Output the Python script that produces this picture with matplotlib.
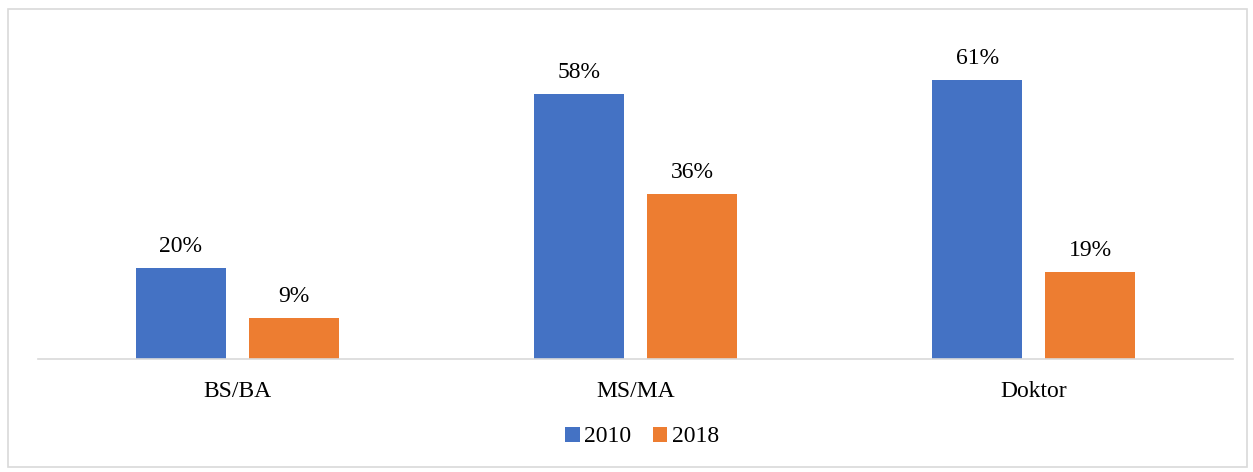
# IMPORTS #######################################
import numpy as np
import matplotlib.pyplot as plt
from matplotlib.patches import Rectangle

# DATA ##########################################
categories = ["BS/BA", "MS/MA", "Doktor"]
series_names = ["2010", "2018"]
values_2010 = [20, 58, 61]
values_2018 = [9, 36, 19]

# SETUP #########################################
plt.rcParams.update({"font.family": ["Liberation Serif", "DejaVu Serif"], "font.size": 17})

W, H = 1253, 472
fig = plt.figure(figsize=(W / 100, H / 100), dpi=100)

# axes placed in pixel terms
left, right, bottom_px, top_px = 38, 1233, 359, 39
ax = fig.add_axes([left / W, 1 - bottom_px / H, (right - left) / W, (bottom_px - top_px) / H])

blue = "#4472c4"
orange = "#ed7d31"
grid_col = "#d9d9d9"

x = np.arange(len(categories))
bw = 0.226
off = 0.142

b1 = ax.bar(x - off, values_2010, width=bw, color=blue, label=series_names[0])
b2 = ax.bar(x + off, values_2018, width=bw, color=orange, label=series_names[1])

for bars, vals in ((b1, values_2010), (b2, values_2018)):
    for rect, v in zip(bars, vals):
        ax.annotate(f"{v}%", (rect.get_x() + rect.get_width() / 2, v),
                    textcoords="offset pixels", xytext=(0, 11),
                    ha="center", va="bottom", fontsize=17, color="#000000")

ax.set_xlim(-0.5, 2.5)
ax.set_ylim(0, 70)
ax.set_xticks(x)
ax.set_xticklabels(categories)
ax.tick_params(axis="x", length=0, pad=15.5, labelsize=17)
ax.set_yticks([])

for s in ("top", "left", "right"):
    ax.spines[s].set_visible(False)
ax.spines["bottom"].set_color(grid_col)
ax.spines["bottom"].set_linewidth(1.2)

# LEGEND ########################################
fig.legend(handles=[b1, b2], labels=series_names, loc="center",
           bbox_to_anchor=(642 / W, 1 - 437 / H), ncol=2, frameon=False,
           fontsize=17, handlelength=0.6, handleheight=0.6,
           handletextpad=0.2, columnspacing=0.9)

# BORDER ########################################
fig.patches.append(Rectangle((8 / W, 1 - 467 / H), (1247 - 8) / W, (467 - 9) / H,
                             transform=fig.transFigure, fill=False,
                             edgecolor=grid_col, linewidth=1.2))

fig.savefig("out.png", dpi=100)
